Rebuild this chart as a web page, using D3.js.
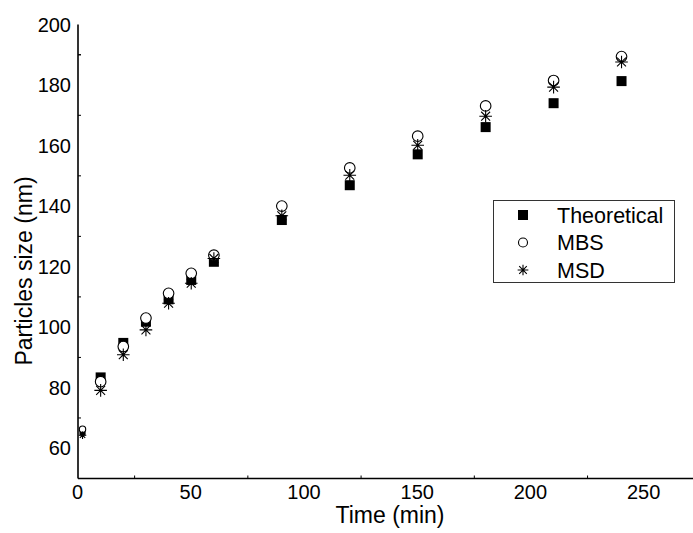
<!DOCTYPE html>
<html>
<head>
<meta charset="utf-8">
<script src="https://cdn.jsdelivr.net/npm/d3@7"></script>
<style>
  body { margin: 0; background: #fff; }
  svg { display: block; font-family: "Liberation Sans", Arial, sans-serif; }
</style>
</head>
<body>
<svg id="chart" width="693" height="533"></svg>
<script>
// time points (min)
var times = [2, 10, 20, 30, 40, 50, 60, 90, 120, 150, 180, 210, 240];
// particle size (nm)
var theoretical = [65.2, 83.4, 94.8, 101.8, 109.2, 115.6, 121.6, 135.4, 146.9, 157.1, 166.1, 174.0, 181.3];
var mbs = [66.3, 82.0, 93.6, 103.0, 111.2, 117.8, 123.8, 140.0, 152.6, 163.1, 173.1, 181.5, 189.4];
var msd = [64.3, 79.1, 90.9, 99.1, 107.9, 114.5, 122.7, 136.8, 150.2, 160.1, 169.7, 179.3, 187.6];
var xTicks = [0, 50, 100, 150, 200, 250];
var yTicks = [60, 80, 100, 120, 140, 160, 180, 200];
var seriesNames = ["Theoretical", "MBS", "MSD"];

var svg = d3.select("#chart");

var x = d3.scaleLinear().domain([0, 272]).range([78, 694]);
var y = d3.scaleLinear().domain([50, 200]).range([478.5, 24.5]);

// marker drawing
function star(s) {
  var p = d3.path();
  var d = s * 0.707;
  p.moveTo(-s, 0); p.lineTo(s, 0);
  p.moveTo(0, -s); p.lineTo(0, s);
  p.moveTo(-d, -d); p.lineTo(d, d);
  p.moveTo(-d, d); p.lineTo(d, -d);
  return p.toString();
}

function drawMarker(g, kind, k) {
  if (kind === 0) {
    g.append("rect")
      .attr("x", -5 * k).attr("y", -5 * k)
      .attr("width", 10 * k).attr("height", 10 * k)
      .attr("fill", "#000");
  } else if (kind === 1) {
    g.append("circle")
      .attr("r", 5.3 * k)
      .attr("fill", "#fff")
      .attr("stroke", "#000")
      .attr("stroke-width", 1.1);
  } else {
    g.append("path")
      .attr("d", star(6.3 * k))
      .attr("fill", "none")
      .attr("stroke", "#000")
      .attr("stroke-width", 1.1);
  }
}

var allSeries = [theoretical, mbs, msd];
allSeries.forEach(function(vals, si) {
  svg.append("g").selectAll("g")
    .data(times)
    .enter()
    .append("g")
    .attr("transform", function(t, i) { return "translate(" + x(t) + "," + y(vals[i]) + ")"; })
    .each(function(t) { drawMarker(d3.select(this), si, t < 5 ? 0.6 : 1); });
});

// axes (minor ticks only, pointing inward)
var xMinor = d3.range(25, 272, 50);
var yMinor = d3.range(70, 200, 20);

var xAxis = svg.append("g").attr("transform", "translate(0," + y(50) + ")");
xAxis.append("line")
  .attr("x1", x(0)).attr("x2", x(272))
  .attr("stroke", "#000").attr("stroke-width", 1.6);
xAxis.selectAll(".minor").data(xMinor).enter().append("line")
  .attr("x1", function(d) { return x(d); }).attr("x2", function(d) { return x(d); })
  .attr("y1", 0).attr("y2", -3)
  .attr("stroke", "#000").attr("stroke-width", 1);
xAxis.selectAll("text").data(xTicks).enter().append("text")
  .attr("x", function(d) { return x(d) - 0.5; })
  .attr("y", 20)
  .attr("text-anchor", "middle")
  .attr("font-size", "20px")
  .text(function(d) { return d; });

var yAxis = svg.append("g").attr("transform", "translate(" + x(0) + ",0)");
yAxis.append("line")
  .attr("y1", y(50)).attr("y2", y(200))
  .attr("stroke", "#000").attr("stroke-width", 1.6);
yAxis.selectAll(".minor").data(yMinor.concat([190])).enter().append("line")
  .attr("y1", function(d) { return y(d); }).attr("y2", function(d) { return y(d); })
  .attr("x1", 0).attr("x2", 3)
  .attr("stroke", "#000").attr("stroke-width", 1);
yAxis.selectAll("text").data(yTicks).enter().append("text")
  .attr("x", -7)
  .attr("y", function(d) { return y(d); })
  .attr("dy", "0.36em")
  .attr("text-anchor", "end")
  .attr("font-size", "20px")
  .text(function(d) { return d; });

// axis titles
svg.append("text")
  .attr("x", 390).attr("y", 523)
  .attr("text-anchor", "middle")
  .attr("font-size", "23px")
  .text("Time (min)");

svg.append("text")
  .attr("transform", "translate(32,271) rotate(-90)")
  .attr("text-anchor", "middle")
  .attr("font-size", "23px")
  .text("Particles size (nm)");

// legend
var legend = svg.append("g");
legend.append("rect")
  .attr("x", 493.5).attr("y", 200.5)
  .attr("width", 181).attr("height", 82)
  .attr("fill", "#fff")
  .attr("stroke", "#333").attr("stroke-width", 1);
seriesNames.forEach(function(name, i) {
  var ly = 215 + i * 27.5;
  var g = legend.append("g").attr("transform", "translate(523," + ly + ")");
  drawMarker(g, i, i === 0 ? 1 : 0.85);
  legend.append("text")
    .attr("x", 557).attr("y", ly)
    .attr("dy", "0.36em")
    .attr("font-size", "21.5px")
    .text(name);
});
</script>
</body>
</html>
